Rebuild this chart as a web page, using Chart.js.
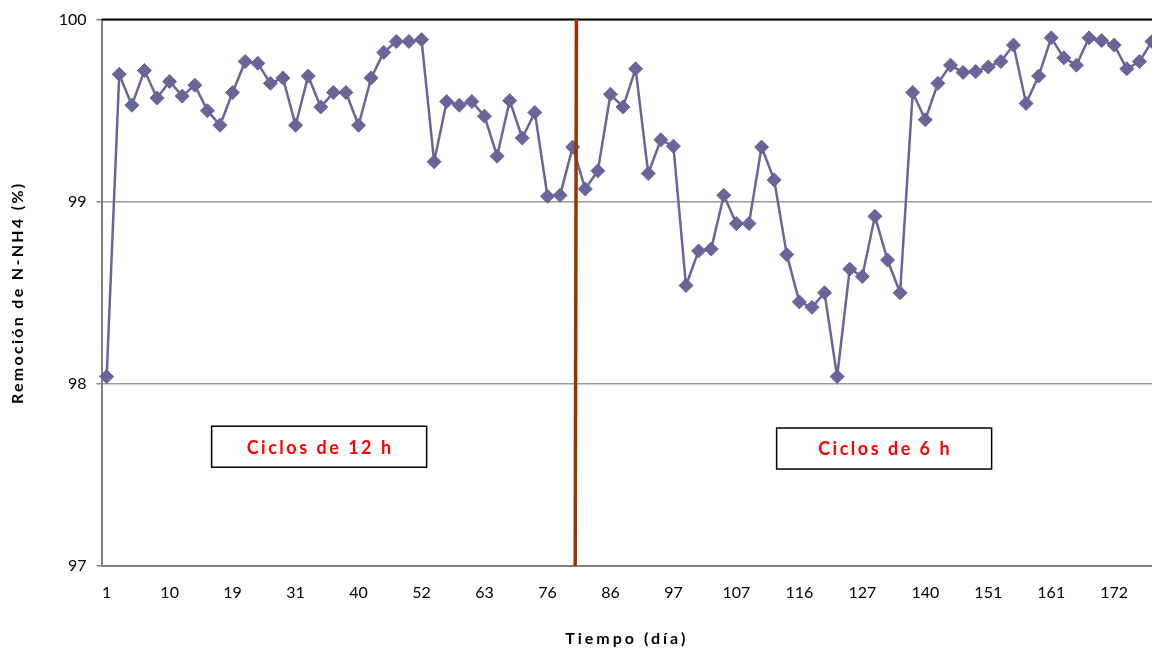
<!DOCTYPE html>
<html>
<head>
<meta charset="utf-8">
<title>Remoción de N-NH4</title>
<script src="https://cdn.jsdelivr.net/npm/chart.js@4/dist/chart.umd.min.js"></script>
<style>
  html, body { margin: 0; padding: 0; background: #ffffff; overflow: hidden; }
  #grafico { display: block; }
</style>
</head>
<body>
<canvas id="grafico" width="1152" height="650"></canvas>
<script>
// Día de muestreo
const dias = [
  1, 3, 5, 6, 8,      10, 12, 13, 15, 17,
  19, 22, 24, 26, 29, 31, 33, 35, 36, 38,
  40, 43, 45, 47, 50, 52, 54, 56, 59, 61,
  63, 66, 68, 71, 73, 76, 78, 80, 82, 84,
  86, 88, 91, 93, 95, 97, 99, 101, 103, 105,
  107, 109, 111, 112, 114, 116, 118, 120, 122, 124,
  127, 129, 132, 134, 137, 140, 142, 144, 147, 149,
  151, 153, 155, 157, 159, 161, 163, 165, 168, 170,
  172, 174, 176, 178
];

// Remoción de N-NH4 (%)
const remocion = [
  98.04, 99.70, 99.53, 99.72, 99.57, 99.66, 99.58, 99.64, 99.50, 99.42,
  99.60, 99.77, 99.76, 99.65, 99.68, 99.42, 99.69, 99.52, 99.60, 99.60,
  99.42, 99.68, 99.82, 99.88, 99.88, 99.89, 99.22, 99.55, 99.53, 99.55,
  99.47, 99.25, 99.555, 99.35, 99.49, 99.03, 99.035, 99.30, 99.07, 99.17,
  99.59, 99.52, 99.73, 99.155, 99.34, 99.305, 98.54, 98.73, 98.74, 99.035,
  98.88, 98.88, 99.30, 99.12, 98.71, 98.45, 98.42, 98.50, 98.04, 98.63,
  98.59, 98.92, 98.68, 98.50, 99.60, 99.45, 99.65, 99.75, 99.71, 99.715,
  99.74, 99.77, 99.86, 99.54, 99.69, 99.90, 99.79, 99.75, 99.90, 99.885,
  99.86, 99.73, 99.77, 99.88
];

// Eje Y
const ticksY = [97, 98, 99, 100];

// Etapas de operación
const etapas = ['Ciclos de 12 h', 'Ciclos de 6 h'];

// Posición (índice de muestra) del cambio de ciclo
const cambioCiclo = 37.25;

// Cada muestra se ubica por su número de orden; el eje muestra el día
const puntos = remocion.map((v, i) => ({ x: i, y: v }));
const marcasX = dias.map((d, i) => i).filter(i => i % 5 === 0);

const FUENTE = 'Lato, "Open Sans", sans-serif';

// Títulos de eje con espaciado entre letras
function espaciarTitulos(chart, espacios) {
  for (const id of Object.keys(espacios)) {
    const s = chart.scales[id];
    if (!s || s._tituloEspaciado) continue;
    const original = s.drawTitle;
    s.drawTitle = function () {
      const ctx = this.ctx;
      ctx.save();
      ctx.letterSpacing = espacios[id];
      original.apply(this, arguments);
      ctx.restore();
    };
    s._tituloEspaciado = true;
  }
}

const marcos = {
  id: 'marcos',
  beforeDraw(chart) {
    espaciarTitulos(chart, { x: '3px', y: '2.3px' });
  },
  afterDatasetsDraw(chart, args, opts) {
    const { ctx, chartArea, scales } = chart;
    ctx.save();
    // borde superior del área de trazado
    ctx.strokeStyle = '#000000';
    ctx.lineWidth = 2;
    ctx.beginPath();
    ctx.moveTo(chartArea.left, chartArea.top);
    ctx.lineTo(chart.width, chartArea.top);
    ctx.stroke();

    // línea de cambio de ciclo
    const xc = scales.x.getPixelForValue(opts.cambio);
    ctx.strokeStyle = '#993300';
    ctx.lineWidth = 3.5;
    ctx.beginPath();
    ctx.moveTo(xc + 0.6, chartArea.top - 1);
    ctx.lineTo(xc - 0.6, chartArea.bottom);
    ctx.stroke();

    // cuadros de texto de cada etapa
    ctx.font = 'bold 18px ' + FUENTE;
    ctx.textAlign = 'center';
    ctx.textBaseline = 'middle';
    ctx.letterSpacing = '2.5px';
    for (const c of opts.cuadros) {
      const cx = scales.x.getPixelForValue(c.x);
      const cy = scales.y.getPixelForValue(c.y);
      const w = 215, h = 41;
      ctx.fillStyle = '#ffffff';
      ctx.fillRect(cx - w / 2, cy - h / 2, w, h);
      ctx.strokeStyle = '#000000';
      ctx.lineWidth = 1.5;
      ctx.strokeRect(cx - w / 2, cy - h / 2, w, h);
      ctx.fillStyle = '#ff0000';
      ctx.fillText(c.texto, cx + 1, cy + 1);
    }
    ctx.restore();
  }
};

new Chart(document.getElementById('grafico'), {
  type: 'line',
  data: {
    datasets: [{
      label: 'Remoción de N-NH4',
      data: puntos,
      borderColor: '#666699',
      backgroundColor: '#666699',
      borderWidth: 2.5,
      pointStyle: 'rectRot',
      pointRadius: 7,
      pointHoverRadius: 7,
      pointBorderWidth: 1,
      pointBorderColor: '#666699',
      pointBackgroundColor: '#666699',
      tension: 0,
      fill: false,
      clip: false
    }]
  },
  options: {
    responsive: false,
    animation: false,
    events: [],
    layout: { autoPadding: false, padding: { top: 18, right: 0, bottom: 0, left: 0 } },
    plugins: {
      legend: { display: false },
      tooltip: { enabled: false },
      marcos: {
        cambio: cambioCiclo,
        cuadros: [
          { texto: etapas[0], x: 16.87, y: 97.655 },
          { texto: etapas[1], x: 61.73, y: 97.645 }
        ]
      }
    },
    scales: {
      x: {
        type: 'linear',
        min: -0.41,
        max: 83,
        afterFit(s) {
          s.height = 84;
          s.paddingLeft = 0;
          s.paddingRight = 0;
        },
        afterBuildTicks(s) { s.ticks = marcasX.map(v => ({ value: v })); },
        grid: { display: false, drawTicks: false },
        border: { display: true, color: '#808080', width: 2 },
        ticks: {
          autoSkip: false,
          maxRotation: 0,
          minRotation: 0,
          padding: 17,
          color: '#000000',
          font: { family: FUENTE, size: 16 },
          callback: v => (Number.isInteger(v) && dias[v] !== undefined ? String(dias[v]) : '')
        },
        title: {
          display: true,
          text: 'Tiempo (día)',
          color: '#000000',
          font: { family: FUENTE, size: 16, weight: 'bold' },
          padding: { top: 0, bottom: 2 }
        }
      },
      y: {
        min: 97,
        max: 100,
        afterFit(s) { s.width = 101.5; },
        afterBuildTicks(s) { s.ticks = ticksY.map(v => ({ value: v })); },
        grid: {
          color: '#9a9a9a',
          lineWidth: 1.5,
          drawTicks: true,
          tickLength: 5,
          tickColor: '#808080'
        },
        border: { display: true, color: '#808080', width: 2 },
        ticks: {
          padding: 10,
          color: '#000000',
          font: { family: FUENTE, size: 16 }
        },
        title: {
          display: true,
          text: 'Remoción de N-NH4 (%)',
          color: '#000000',
          font: { family: FUENTE, size: 16, weight: 'bold' },
          padding: { top: 8, bottom: 0 }
        }
      }
    }
  },
  plugins: [marcos]
});
</script>
</body>
</html>
